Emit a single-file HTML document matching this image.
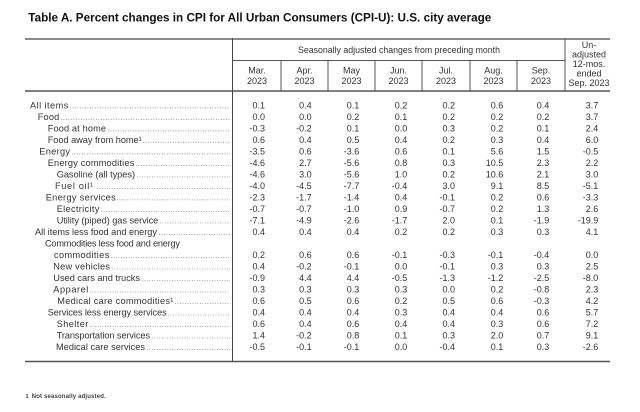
<!DOCTYPE html>
<html><head><meta charset="utf-8"><style>
html,body{margin:0;padding:0;background:#fff;}
svg{display:block;}
text{font-family:"Liberation Sans",Arial,sans-serif;fill:#333;}
.h{font-size:9px;text-anchor:middle;}
.d{font-size:9px;text-anchor:end;}
.s{font-size:9.2px;}
</style></head><body>
<svg width="640" height="412" viewBox="0 0 640 412" xmlns="http://www.w3.org/2000/svg">
<rect width="640" height="412" fill="#fff"/>
<text x="28.3" y="21.7" font-size="11.5" font-weight="bold" textLength="463" lengthAdjust="spacingAndGlyphs" style="fill:#111">Table A. Percent changes in CPI for All Urban Consumers (CPI-U): U.S. city average</text>

<line x1="25" y1="39" x2="610" y2="39" stroke="#8a8a8a" stroke-width="2"/>
<line x1="232.5" y1="38" x2="232.5" y2="362" stroke="#444" stroke-width="1"/>
<line x1="233" y1="60.5" x2="565" y2="60.5" stroke="#555" stroke-width="1"/>
<g stroke="#555" stroke-width="1">
<line x1="281" y1="60.5" x2="281" y2="91"/>
<line x1="328" y1="60.5" x2="328" y2="91"/>
<line x1="375" y1="60.5" x2="375" y2="91"/>
<line x1="422" y1="60.5" x2="422" y2="91"/>
<line x1="470" y1="60.5" x2="470" y2="91"/>
<line x1="517" y1="60.5" x2="517" y2="91"/>
<line x1="565" y1="39" x2="565" y2="91"/>
</g>
<line x1="25" y1="91" x2="610" y2="91" stroke="#555" stroke-width="1.5"/>
<line x1="25" y1="361.5" x2="610" y2="361.5" stroke="#555" stroke-width="1.5"/>

<text x="399" y="53" class="h" textLength="202" lengthAdjust="spacingAndGlyphs">Seasonally adjusted changes from preceding month</text>
<g class="h">
<text x="257" y="73.5" class="h">Mar.</text><text x="257" y="84" class="h">2023</text>
<text x="304.5" y="73.5" class="h">Apr.</text><text x="304.5" y="84" class="h">2023</text>
<text x="351.5" y="73.5" class="h">May</text><text x="351.5" y="84" class="h">2023</text>
<text x="398.5" y="73.5" class="h">Jun.</text><text x="398.5" y="84" class="h">2023</text>
<text x="446" y="73.5" class="h">Jul.</text><text x="446" y="84" class="h">2023</text>
<text x="493.5" y="73.5" class="h">Aug.</text><text x="493.5" y="84" class="h">2023</text>
<text x="541" y="73.5" class="h">Sep.</text><text x="541" y="84" class="h">2023</text>
<text x="589" y="48" class="h">Un-</text>
<text x="589" y="57.5" class="h">adjusted</text>
<text x="589" y="67" class="h">12-mos.</text>
<text x="589" y="76.5" class="h">ended</text>
<text x="589" y="86" class="h">Sep. 2023</text>
</g>

<g id="stub" class="s">
<text class="s" x="30" y="108.3" textLength="38.3" lengthAdjust="spacing">All items</text>
<text class="s" x="37.7" y="119.8" textLength="21.6" lengthAdjust="spacing">Food</text>
<text class="s" x="47.7" y="131.3" textLength="58.3" lengthAdjust="spacing">Food at home</text>
<text class="s" x="47.7" y="142.8" textLength="94" lengthAdjust="spacing">Food away from home¹</text>
<text class="s" x="39.3" y="154.3" textLength="30.7" lengthAdjust="spacing">Energy</text>
<text class="s" x="47.7" y="165.9" textLength="86.6" lengthAdjust="spacing">Energy commodities</text>
<text class="s" x="56.7" y="177.4" textLength="78.3" lengthAdjust="spacing">Gasoline (all types)</text>
<text class="s" x="55" y="188.9" textLength="38" lengthAdjust="spacing">Fuel oil¹</text>
<text class="s" x="45.7" y="200.4" textLength="70" lengthAdjust="spacing">Energy services</text>
<text class="s" x="56.7" y="211.9" textLength="42.6" lengthAdjust="spacing">Electricity</text>
<text class="s" x="56.7" y="223.4" textLength="101.6" lengthAdjust="spacing">Utility (piped) gas service</text>
<text class="s" x="35" y="234.9" textLength="122" lengthAdjust="spacing">All items less food and energy</text>
<text class="s" x="45" y="246.4" textLength="135" lengthAdjust="spacing">Commodities less food and energy</text>
<text class="s" x="54" y="257.9" textLength="55.3" lengthAdjust="spacing">commodities</text>
<text class="s" x="53.3" y="269.5" textLength="56.7" lengthAdjust="spacing">New vehicles</text>
<text class="s" x="53.3" y="281" textLength="86.7" lengthAdjust="spacing">Used cars and trucks</text>
<text class="s" x="53.3" y="292.5" textLength="35" lengthAdjust="spacing">Apparel</text>
<text class="s" x="57.3" y="304" textLength="116" lengthAdjust="spacing">Medical care commodities¹</text>
<text class="s" x="47.7" y="315.5" textLength="119" lengthAdjust="spacing">Services less energy services</text>
<text class="s" x="56.7" y="327" textLength="31.6" lengthAdjust="spacing">Shelter</text>
<text class="s" x="56.7" y="338.5" textLength="93.3" lengthAdjust="spacing">Transportation services</text>
<text class="s" x="56" y="350" textLength="89" lengthAdjust="spacing">Medical care services</text>
</g>

<g stroke="#777" stroke-width="0.8" stroke-dasharray="0.8 1.7">
<line x1="70" y1="107.8" x2="230" y2="107.8"/>
<line x1="61" y1="119.3" x2="230" y2="119.3"/>
<line x1="108" y1="130.8" x2="230" y2="130.8"/>
<line x1="143" y1="142.3" x2="230" y2="142.3"/>
<line x1="72" y1="153.8" x2="230" y2="153.8"/>
<line x1="136" y1="165.4" x2="230" y2="165.4"/>
<line x1="137" y1="176.9" x2="230" y2="176.9"/>
<line x1="97" y1="188.4" x2="230" y2="188.4"/>
<line x1="117" y1="199.9" x2="230" y2="199.9"/>
<line x1="101" y1="211.4" x2="230" y2="211.4"/>
<line x1="160" y1="222.9" x2="230" y2="222.9"/>
<line x1="159" y1="234.4" x2="230" y2="234.4"/>
<line x1="111" y1="257.4" x2="230" y2="257.4"/>
<line x1="112" y1="269" x2="230" y2="269"/>
<line x1="142" y1="280.5" x2="230" y2="280.5"/>
<line x1="90" y1="292" x2="230" y2="292"/>
<line x1="175" y1="303.5" x2="230" y2="303.5"/>
<line x1="168" y1="315" x2="230" y2="315"/>
<line x1="90" y1="326.5" x2="230" y2="326.5"/>
<line x1="152" y1="338" x2="230" y2="338"/>
<line x1="147" y1="349.5" x2="230" y2="349.5"/>
</g>

<g class="d">
<!-- Mar -->
<text class="d" x="265" y="108.3">0.1</text><text class="d" x="265" y="119.8">0.0</text><text class="d" x="265" y="131.3">-0.3</text><text class="d" x="265" y="142.8">0.6</text><text class="d" x="265" y="154.3">-3.5</text><text class="d" x="265" y="165.9">-4.6</text><text class="d" x="265" y="177.4">-4.6</text><text class="d" x="265" y="188.9">-4.0</text><text class="d" x="265" y="200.4">-2.3</text><text class="d" x="265" y="211.9">-0.7</text><text class="d" x="265" y="223.4">-7.1</text><text class="d" x="265" y="234.9">0.4</text><text class="d" x="265" y="257.9">0.2</text><text class="d" x="265" y="269.5">0.4</text><text class="d" x="265" y="281">-0.9</text><text class="d" x="265" y="292.5">0.3</text><text class="d" x="265" y="304">0.6</text><text class="d" x="265" y="315.5">0.4</text><text class="d" x="265" y="327">0.6</text><text class="d" x="265" y="338.5">1.4</text><text class="d" x="265" y="350">-0.5</text>
<!-- Apr -->
<text class="d" x="311.7" y="108.3">0.4</text><text class="d" x="311.7" y="119.8">0.0</text><text class="d" x="311.7" y="131.3">-0.2</text><text class="d" x="311.7" y="142.8">0.4</text><text class="d" x="311.7" y="154.3">0.6</text><text class="d" x="311.7" y="165.9">2.7</text><text class="d" x="311.7" y="177.4">3.0</text><text class="d" x="311.7" y="188.9">-4.5</text><text class="d" x="311.7" y="200.4">-1.7</text><text class="d" x="311.7" y="211.9">-0.7</text><text class="d" x="311.7" y="223.4">-4.9</text><text class="d" x="311.7" y="234.9">0.4</text><text class="d" x="311.7" y="257.9">0.6</text><text class="d" x="311.7" y="269.5">-0.2</text><text class="d" x="311.7" y="281">4.4</text><text class="d" x="311.7" y="292.5">0.3</text><text class="d" x="311.7" y="304">0.5</text><text class="d" x="311.7" y="315.5">0.4</text><text class="d" x="311.7" y="327">0.4</text><text class="d" x="311.7" y="338.5">-0.2</text><text class="d" x="311.7" y="350">-0.1</text>
<!-- May -->
<text class="d" x="359.3" y="108.3">0.1</text><text class="d" x="359.3" y="119.8">0.2</text><text class="d" x="359.3" y="131.3">0.1</text><text class="d" x="359.3" y="142.8">0.5</text><text class="d" x="359.3" y="154.3">-3.6</text><text class="d" x="359.3" y="165.9">-5.6</text><text class="d" x="359.3" y="177.4">-5.6</text><text class="d" x="359.3" y="188.9">-7.7</text><text class="d" x="359.3" y="200.4">-1.4</text><text class="d" x="359.3" y="211.9">-1.0</text><text class="d" x="359.3" y="223.4">-2.6</text><text class="d" x="359.3" y="234.9">0.4</text><text class="d" x="359.3" y="257.9">0.6</text><text class="d" x="359.3" y="269.5">-0.1</text><text class="d" x="359.3" y="281">4.4</text><text class="d" x="359.3" y="292.5">0.3</text><text class="d" x="359.3" y="304">0.6</text><text class="d" x="359.3" y="315.5">0.4</text><text class="d" x="359.3" y="327">0.6</text><text class="d" x="359.3" y="338.5">0.8</text><text class="d" x="359.3" y="350">-0.1</text>
<!-- Jun -->
<text class="d" x="407.3" y="108.3">0.2</text><text class="d" x="407.3" y="119.8">0.1</text><text class="d" x="407.3" y="131.3">0.0</text><text class="d" x="407.3" y="142.8">0.4</text><text class="d" x="407.3" y="154.3">0.6</text><text class="d" x="407.3" y="165.9">0.8</text><text class="d" x="407.3" y="177.4">1.0</text><text class="d" x="407.3" y="188.9">-0.4</text><text class="d" x="407.3" y="200.4">0.4</text><text class="d" x="407.3" y="211.9">0.9</text><text class="d" x="407.3" y="223.4">-1.7</text><text class="d" x="407.3" y="234.9">0.2</text><text class="d" x="407.3" y="257.9">-0.1</text><text class="d" x="407.3" y="269.5">0.0</text><text class="d" x="407.3" y="281">-0.5</text><text class="d" x="407.3" y="292.5">0.3</text><text class="d" x="407.3" y="304">0.2</text><text class="d" x="407.3" y="315.5">0.3</text><text class="d" x="407.3" y="327">0.4</text><text class="d" x="407.3" y="338.5">0.1</text><text class="d" x="407.3" y="350">0.0</text>
<!-- Jul -->
<text class="d" x="455" y="108.3">0.2</text><text class="d" x="455" y="119.8">0.2</text><text class="d" x="455" y="131.3">0.3</text><text class="d" x="455" y="142.8">0.2</text><text class="d" x="455" y="154.3">0.1</text><text class="d" x="455" y="165.9">0.3</text><text class="d" x="455" y="177.4">0.2</text><text class="d" x="455" y="188.9">3.0</text><text class="d" x="455" y="200.4">-0.1</text><text class="d" x="455" y="211.9">-0.7</text><text class="d" x="455" y="223.4">2.0</text><text class="d" x="455" y="234.9">0.2</text><text class="d" x="455" y="257.9">-0.3</text><text class="d" x="455" y="269.5">-0.1</text><text class="d" x="455" y="281">-1.3</text><text class="d" x="455" y="292.5">0.0</text><text class="d" x="455" y="304">0.5</text><text class="d" x="455" y="315.5">0.4</text><text class="d" x="455" y="327">0.4</text><text class="d" x="455" y="338.5">0.3</text><text class="d" x="455" y="350">-0.4</text>
<!-- Aug -->
<text class="d" x="503.3" y="108.3">0.6</text><text class="d" x="503.3" y="119.8">0.2</text><text class="d" x="503.3" y="131.3">0.2</text><text class="d" x="503.3" y="142.8">0.3</text><text class="d" x="503.3" y="154.3">5.6</text><text class="d" x="503.3" y="165.9">10.5</text><text class="d" x="503.3" y="177.4">10.6</text><text class="d" x="503.3" y="188.9">9.1</text><text class="d" x="503.3" y="200.4">0.2</text><text class="d" x="503.3" y="211.9">0.2</text><text class="d" x="503.3" y="223.4">0.1</text><text class="d" x="503.3" y="234.9">0.3</text><text class="d" x="503.3" y="257.9">-0.1</text><text class="d" x="503.3" y="269.5">0.3</text><text class="d" x="503.3" y="281">-1.2</text><text class="d" x="503.3" y="292.5">0.2</text><text class="d" x="503.3" y="304">0.6</text><text class="d" x="503.3" y="315.5">0.4</text><text class="d" x="503.3" y="327">0.3</text><text class="d" x="503.3" y="338.5">2.0</text><text class="d" x="503.3" y="350">0.1</text>
<!-- Sep -->
<text class="d" x="549.3" y="108.3">0.4</text><text class="d" x="549.3" y="119.8">0.2</text><text class="d" x="549.3" y="131.3">0.1</text><text class="d" x="549.3" y="142.8">0.4</text><text class="d" x="549.3" y="154.3">1.5</text><text class="d" x="549.3" y="165.9">2.3</text><text class="d" x="549.3" y="177.4">2.1</text><text class="d" x="549.3" y="188.9">8.5</text><text class="d" x="549.3" y="200.4">0.6</text><text class="d" x="549.3" y="211.9">1.3</text><text class="d" x="549.3" y="223.4">-1.9</text><text class="d" x="549.3" y="234.9">0.3</text><text class="d" x="549.3" y="257.9">-0.4</text><text class="d" x="549.3" y="269.5">0.3</text><text class="d" x="549.3" y="281">-2.5</text><text class="d" x="549.3" y="292.5">-0.8</text><text class="d" x="549.3" y="304">-0.3</text><text class="d" x="549.3" y="315.5">0.6</text><text class="d" x="549.3" y="327">0.6</text><text class="d" x="549.3" y="338.5">0.7</text><text class="d" x="549.3" y="350">0.3</text>
<!-- 12 mo -->
<text class="d" x="598.3" y="108.3">3.7</text><text class="d" x="598.3" y="119.8">3.7</text><text class="d" x="598.3" y="131.3">2.4</text><text class="d" x="598.3" y="142.8">6.0</text><text class="d" x="598.3" y="154.3">-0.5</text><text class="d" x="598.3" y="165.9">2.2</text><text class="d" x="598.3" y="177.4">3.0</text><text class="d" x="598.3" y="188.9">-5.1</text><text class="d" x="598.3" y="200.4">-3.3</text><text class="d" x="598.3" y="211.9">2.6</text><text class="d" x="598.3" y="223.4">-19.9</text><text class="d" x="598.3" y="234.9">4.1</text><text class="d" x="598.3" y="257.9">0.0</text><text class="d" x="598.3" y="269.5">2.5</text><text class="d" x="598.3" y="281">-8.0</text><text class="d" x="598.3" y="292.5">2.3</text><text class="d" x="598.3" y="304">4.2</text><text class="d" x="598.3" y="315.5">5.7</text><text class="d" x="598.3" y="327">7.2</text><text class="d" x="598.3" y="338.5">9.1</text><text class="d" x="598.3" y="350">-2.6</text>
</g>

<text x="25.5" y="398" font-size="5.5" font-weight="bold">1</text>
<text x="31.7" y="398" font-size="6" font-weight="bold" textLength="74" lengthAdjust="spacing" style="fill:#444">Not seasonally adjusted.</text>
</svg>
</body></html>
